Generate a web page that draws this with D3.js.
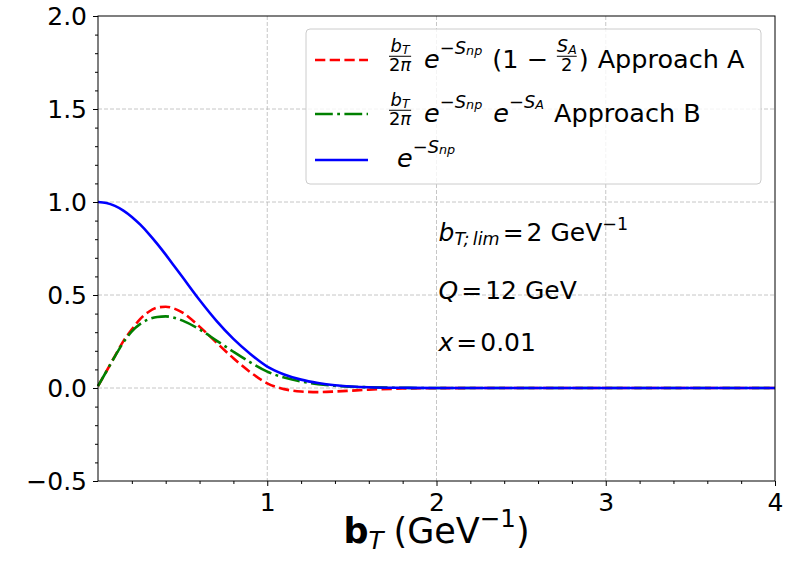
<!DOCTYPE html>
<html>
<head>
<meta charset="utf-8">
<script src="https://cdn.jsdelivr.net/npm/d3@7"></script>
<style>
  body { margin: 0; background: #fff; overflow: hidden; }
  svg { display: block; }
  svg text { font-family: "DejaVu Sans", sans-serif; fill: #000; white-space: pre; }
</style>
</head>
<body>
<div id="chart"></div>
<script>
// values
const bT = [0, 0.05, 0.1, 0.15, 0.2, 0.25, 0.3, 0.35, 0.4, 0.45, 0.5, 0.6, 0.7, 0.8,
  0.9, 1.0, 1.1, 1.2, 1.3, 1.4, 1.5, 1.6, 1.8, 2.0, 2.5, 3.0, 3.5, 4.0];
const approachA = [0.01, 0.09, 0.172, 0.252, 0.315, 0.372, 0.41, 0.432, 0.437, 0.427, 0.405,
  0.33, 0.244, 0.16, 0.085, 0.025, -0.006, -0.019, -0.022, -0.019, -0.014, -0.009,
  -0.003, -0.001, 0, 0, 0, 0];
const approachB = [0.01, 0.09, 0.17, 0.245, 0.305, 0.345, 0.37, 0.382, 0.385, 0.378, 0.362,
  0.315, 0.255, 0.195, 0.138, 0.088, 0.056, 0.035, 0.021, 0.012, 0.007, 0.004,
  0.001, 0, 0, 0, 0, 0];
const eSnp = [1.0, 0.995, 0.979, 0.954, 0.92, 0.878, 0.829, 0.775, 0.717, 0.656, 0.595,
  0.473, 0.361, 0.264, 0.183, 0.115, 0.073, 0.045, 0.027, 0.015, 0.008, 0.004,
  0.001, 0, 0, 0, 0, 0];

const xTicks = [1, 2, 3, 4];
const yTicks = [-0.5, 0, 0.5, 1.0, 1.5, 2.0];
const xMinor = d3.range(0.2, 4, 0.2).filter(v => Math.abs(v - Math.round(v)) > 1e-6);
const yMinor = d3.range(-0.4, 2, 0.1).filter(v => Math.abs(v * 2 - Math.round(v * 2)) > 1e-6);

const annotations = [
  { y: 0.79, parts: [{ t: 'b', i: 1 }, { t: 'T;\u2009lim', i: 1, s: 0.7, up: -0.16 }, { w: 3 }, { t: '=' },
    { w: 3 }, { t: '2 GeV' }, { t: '\u22121', s: 0.7, up: 0.45 }] },
  { y: 0.48, parts: [{ t: 'Q', i: 1 }, { w: 3 }, { t: '=' }, { w: 3 }, { t: '12 GeV' }] },
  { y: 0.2, parts: [{ t: 'x', i: 1 }, { w: 3 }, { t: '=' }, { w: 3 }, { t: '0.01' }] },
];

const width = 810;
const height = 565;
const margin = { top: 16, right: 35, bottom: 84, left: 98 };
const innerWidth = width - margin.left - margin.right;
const innerHeight = height - margin.top - margin.bottom;
const FS = 25;
const LEGEND_FS = 25.5;

const svg = d3.select('#chart')
  .append('svg')
  .attr('width', width)
  .attr('height', height);

const chart = svg.append('g')
  .attr('transform', `translate(${margin.left},${margin.top})`);

const xScale = d3.scaleLinear().domain([0, 4]).range([0, innerWidth]);
const yScale = d3.scaleLinear().domain([-0.5, 2]).range([innerHeight, 0]);

// Lays out a bit of mathtext left to right, returns its width
function mtext(g, x, y, parts, fs) {
  let cx = x;
  parts.forEach(p => {
    if (p.w) {
      cx += p.w;
      return;
    }
    if (p.num) {
      const num = g.append('g');
      const den = g.append('g');
      const s = fs * 0.7;
      const wn = mtext(num, 0, 0, p.num, s);
      const wd = mtext(den, 0, 0, p.den, s);
      const w = Math.max(wn, wd) + 2;
      num.attr('transform', `translate(${cx + (w - wn) / 2},${y - fs * 0.64})`);
      den.attr('transform', `translate(${cx + (w - wd) / 2},${y + fs * 0.1})`);
      g.append('line')
        .attr('x1', cx + 1).attr('x2', cx + w - 1)
        .attr('y1', y - fs * 0.46).attr('y2', y - fs * 0.46)
        .attr('stroke', '#000').attr('stroke-width', 1);
      cx += w + 1;
      return;
    }
    const t = g.append('text')
      .attr('x', cx)
      .attr('y', y - fs * (p.up || 0))
      .style('font-size', `${fs * (p.s || 1)}px`)
      .style('font-style', p.i ? 'italic' : null)
      .style('font-weight', p.b ? 'bold' : null)
      .text(p.t);
    cx += t.node().getComputedTextLength();
  });
  return cx - x;
}

// grid
const grid = chart.append('g');
grid.append('g')
  .selectAll('line')
  .data(xTicks.filter(v => v < 4))
  .join('line')
    .attr('x1', d => xScale(d)).attr('x2', d => xScale(d))
    .attr('y1', 0).attr('y2', innerHeight);
grid.append('g')
  .selectAll('line')
  .data(yTicks.filter(v => v > -0.5 && v < 2))
  .join('line')
    .attr('x1', 0).attr('x2', innerWidth)
    .attr('y1', d => yScale(d)).attr('y2', d => yScale(d));
grid.selectAll('line')
  .attr('stroke', '#b8b8b8')
  .attr('stroke-width', 0.8)
  .attr('stroke-dasharray', '4,2');

// curves
const series = [
  { values: approachA, color: 'red', dash: '10.3,4.4' },
  { values: approachB, color: 'green', dash: '17.8,4.4,2.8,4.4' },
  { values: eSnp, color: 'blue', dash: null },
];
const line = d3.line()
  .x(d => xScale(d[0]))
  .y(d => yScale(d[1]))
  .curve(d3.curveMonotoneX);

chart.append('g')
  .selectAll('path')
  .data(series)
  .join('path')
    .attr('d', s => line(bT.map((b, i) => [b, s.values[i]])))
    .attr('fill', 'none')
    .attr('stroke', s => s.color)
    .attr('stroke-width', 2.6)
    .attr('stroke-dasharray', s => s.dash);

// axes
const xAxis = chart.append('g')
  .attr('transform', `translate(0,${innerHeight})`)
  .call(d3.axisBottom(xScale).tickValues(xTicks).tickFormat(d3.format('d'))
    .tickSize(5).tickPadding(7).tickSizeOuter(0));
const xMinorAxis = chart.append('g')
  .attr('transform', `translate(0,${innerHeight})`)
  .call(d3.axisBottom(xScale).tickValues(xMinor).tickSize(3).tickSizeOuter(0));
const yAxis = chart.append('g')
  .call(d3.axisLeft(yScale).tickValues(yTicks).tickFormat(d3.format('.1f'))
    .tickSize(5).tickPadding(6).tickSizeOuter(0));
const yMinorAxis = chart.append('g')
  .call(d3.axisLeft(yScale).tickValues(yMinor).tickSize(3).tickSizeOuter(0));

// minor ticks carry no labels
xMinorAxis.selectAll('text').remove();
yMinorAxis.selectAll('text').remove();
chart.selectAll('.domain').remove();
chart.selectAll('.tick line').attr('stroke', '#000').attr('stroke-width', 1);
[xAxis, yAxis].forEach(a => a.selectAll('text')
  .style('font-size', `${FS}px`)
  .style('font-family', '"DejaVu Sans", sans-serif'));

chart.append('rect')
  .attr('width', innerWidth)
  .attr('height', innerHeight)
  .attr('fill', 'none')
  .attr('stroke', '#000')
  .attr('stroke-width', 1);

// x label, centred under the plot
const xLabel = svg.append('g');
const xw = mtext(xLabel, 0, 0, [
  { t: 'b', b: 1 }, { t: 'T', i: 1, s: 0.7, up: -0.18 }, { w: 10 }, { t: '(GeV' },
  { t: '\u22121', s: 0.7, up: 0.45 }, { t: ')' },
], 35);
xLabel.attr('transform', `translate(${margin.left + innerWidth / 2 - xw / 2},543)`);

// annotations
annotations.forEach(a => {
  mtext(chart.append('g'), xScale(2.0) + 2, yScale(a.y), a.parts, FS);
});

// legend
const legend = svg.append('g').attr('transform', 'translate(306,29)');
legend.append('rect')
  .attr('width', 455)
  .attr('height', 155)
  .attr('rx', 4)
  .attr('fill', '#fff')
  .attr('fill-opacity', 0.8)
  .attr('stroke', '#cccccc')
  .attr('stroke-width', 1);

const sup = [{ t: '\u2212S', i: 1, s: 0.7, up: 0.55 }];
const snp = sup.concat([{ t: 'np', i: 1, s: 0.5, up: 0.5 }]);
const btFrac = { num: [{ t: 'b', i: 1 }, { t: 'T', i: 1, s: 0.7, up: -0.15 }], den: [{ t: '2' }, { t: '\u03c0', i: 1 }] };
const legendRows = [
  { y: 31, text: 39, parts: [btFrac, { w: 11 }, { t: 'e', i: 1 }, ...snp, { w: 10 }, { t: '(1' }, { w: 8 },
    { t: '\u2212' }, { w: 8 },
    { num: [{ t: 'S', i: 1 }, { t: 'A', i: 1, s: 0.7, up: -0.15 }], den: [{ t: '2' }] },
    { t: ')' }, { w: 9 }, { t: 'Approach A' }] },
  { y: 85, text: 93, parts: [btFrac, { w: 11 }, { t: 'e', i: 1 }, ...snp, { w: 11 }, { t: 'e', i: 1 },
    ...sup, { t: 'A', i: 1, s: 0.5, up: 0.5 }, { w: 10 }, { t: 'Approach B' }] },
  { y: 131, text: 138, parts: [{ w: 9 }, { t: 'e', i: 1 }, ...snp] },
];
legendRows.forEach((r, i) => {
  legend.append('line')
    .attr('x1', 9).attr('x2', 62)
    .attr('y1', r.y).attr('y2', r.y)
    .attr('stroke', series[i].color)
    .attr('stroke-width', 2.6)
    .attr('stroke-dasharray', series[i].dash);
  mtext(legend.append('g'), 82, r.text, r.parts, LEGEND_FS);
});
</script>
</body>
</html>
